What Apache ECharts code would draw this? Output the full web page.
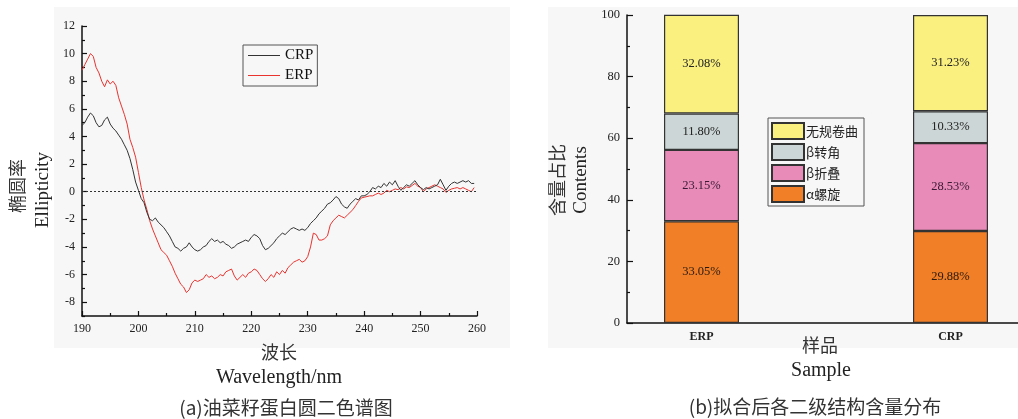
<!DOCTYPE html>
<html><head><meta charset="utf-8">
<script src="https://cdn.jsdelivr.net/npm/echarts@6/dist/echarts.min.js"></script>
<style>html,body{margin:0;padding:0;background:#fff}#c{width:1018px;height:419px}</style>
</head><body><div id="c"></div>
<script>
// ---- Chart (a): CD spectra ----
const wavelength = [190,190.5,191,191.5,192,192.5,193,193.5,194,194.5,195,195.5,196,196.5,197,197.5,198,198.5,199,199.5,
200,200.5,201,201.5,202,202.5,203,203.5,204,204.5,205,205.5,206,206.5,207,207.5,208,208.5,209,209.5,
210,210.5,211,211.5,212,212.5,213,213.5,214,214.5,215,215.5,216,216.5,217,217.5,218,218.5,219,219.5,
220,220.5,221,221.5,222,222.5,223,223.5,224,224.5,225,225.5,226,226.5,227,227.5,228,228.5,229,229.5,
230,230.5,231,231.5,232,232.5,233,233.5,234,234.5,235,235.5,236,236.5,237,237.5,238,238.5,239,239.5,
240,240.5,241,241.5,242,242.5,243,243.5,244,244.5,245,245.5,246,246.5,247,247.5,248,248.5,249,249.5,
250,250.5,251,251.5,252,252.5,253,253.5,254,254.5,255,255.5,256,256.5,257,257.5,258,258.5,259,259.5];
const crp = [4.8,5.0,5.4,5.7,5.5,5.0,4.7,4.8,5.2,5.4,4.9,4.6,4.4,4.1,3.8,3.4,3.0,2.4,1.6,0.7,
0.1,-0.5,-0.8,-1.5,-2.0,-2.1,-1.9,-2.2,-2.4,-2.6,-2.9,-3.2,-3.6,-4.0,-4.1,-4.3,-4.1,-4.0,-3.7,-4.0,
-4.2,-4.3,-4.2,-4.0,-3.9,-3.6,-3.4,-3.6,-3.5,-3.7,-3.6,-3.8,-3.9,-4.1,-4.0,-3.8,-3.7,-3.6,-3.5,-3.6,
-3.3,-3.1,-3.2,-3.4,-3.9,-4.2,-4.1,-3.9,-3.7,-3.4,-3.2,-3.0,-3.1,-2.9,-2.7,-2.6,-2.7,-2.8,-2.7,-2.8,
-2.6,-2.3,-2.1,-1.9,-1.6,-1.4,-1.2,-0.9,-0.8,-0.6,-0.35,-0.5,-0.9,-1.1,-1.2,-0.9,-0.7,-0.5,-0.6,-0.3,
-0.3,-0.2,0.0,0.3,0.2,0.4,0.3,0.6,0.4,0.7,0.5,0.8,0.4,0.1,0.3,0.5,0.4,0.6,0.8,0.5,
0.3,0.15,0.3,0.2,0.3,0.4,0.5,0.9,0.5,0.1,0.4,0.6,0.7,0.6,0.7,0.8,0.7,0.8,0.6,0.6];
const erp = [8.8,9.2,9.6,10.0,9.8,9.0,8.6,8.0,7.6,8.1,7.8,8.0,7.7,6.8,6.2,5.6,4.9,3.8,3.2,2.5,
1.4,0.3,-0.6,-1.3,-2.1,-2.7,-3.2,-3.7,-4.2,-4.4,-4.6,-5.0,-5.4,-5.9,-6.3,-6.7,-6.9,-7.3,-7.1,-6.6,
-6.4,-6.5,-6.4,-6.3,-6.0,-6.2,-6.1,-6.3,-6.2,-6.0,-6.1,-5.8,-5.7,-5.6,-6.1,-6.4,-6.2,-6.0,-6.2,-5.9,
-5.8,-5.6,-5.7,-6.0,-6.3,-6.5,-6.3,-6.0,-6.2,-5.8,-6.0,-5.7,-5.9,-5.5,-5.3,-5.1,-5.0,-4.9,-5.1,-5.0,
-4.7,-4.0,-3.0,-3.1,-3.5,-3.5,-3.4,-3.2,-2.4,-2.1,-1.9,-1.7,-1.8,-1.9,-1.7,-1.5,-1.3,-1.0,-0.7,-0.45,
-0.4,-0.35,-0.3,-0.3,-0.2,-0.1,-0.2,-0.1,0.1,0.0,0.1,0.2,0.15,0.3,0.2,0.35,0.3,0.45,0.6,0.4,
0.3,0.0,0.2,0.3,0.4,0.5,0.4,0.3,0.2,-0.05,0.1,0.2,0.25,0.3,0.2,0.3,0.2,0.1,0.0,0.3];
const yMajorTicks = [-8,-6,-4,-2,0,2,4,6,8,10,12];
const yMinorTicks = [-9,-7,-5,-3,-1,1,3,5,7,9,11];

// ---- Chart (b): secondary structure content ----
const samples = ['ERP','CRP'];
const structNames = ['α螺旋','β折叠','β转角','无规卷曲'];
const alphaHelix = [33.05, 29.88];
const betaSheet = [23.15, 28.53];
const betaTurn = [11.80, 10.33];
const randomCoil = [32.08, 31.23];

const serif = 'Liberation Serif, Times New Roman, serif';
const cjk = 'Noto Sans CJK SC';

const chart = echarts.init(document.getElementById('c'), null, {renderer:'canvas'});

function pairs(xs, ys){ return ys.map((v,i)=>[xs[i], v]); }
const structValues = [alphaHelix, betaSheet, betaTurn, randomCoil];
const structColors = ['#F07F27','#E88BB9','#CDD6D6','#FAF080'];
const labelColors = ['#2a1a10','#3a1a35','#222','#222'];

const barSeries = structNames.map((n,k)=>({
  name:n, type:'bar', stack:'total', xAxisIndex:2, yAxisIndex:3,
  barWidth:75,
  data: structValues[k],
  itemStyle:{color:structColors[k], borderColor:'#333', borderWidth:1.2},
  label:{show:true, position:'inside', formatter:p=>p.value.toFixed(2)+'%',
    fontFamily:serif, fontSize:12.5, color:labelColors[k]}
}));

const lineIcon = 'path://M0 0H32V1H0Z';

const option = {
  animation:false,
  backgroundColor:'#fff',
  graphic:[
    {type:'rect', z:-10, shape:{x:54,y:7,width:456,height:341}, style:{fill:'#f7f7f7'}},
    {type:'rect', z:-10, shape:{x:548,y:7,width:470,height:341}, style:{fill:'#f7f7f7'}},
    {type:'text', x:17, y:186, rotation:Math.PI/2, style:{text:'椭圆率', font:'18px '+cjk, fill:'#333', align:'center', verticalAlign:'middle'}},
    {type:'text', x:43, y:190, rotation:Math.PI/2, style:{text:'Ellipticity', font:'19px '+serif, fill:'#222', align:'center', verticalAlign:'middle'}},
    {type:'text', x:279, y:352, style:{text:'波长', font:'18px '+cjk, fill:'#333', align:'center', verticalAlign:'middle'}},
    {type:'text', x:279, y:378, style:{text:'Wavelength/nm', font:'20px '+serif, fill:'#222', align:'center', verticalAlign:'middle'}},
    {type:'text', x:286, y:408, style:{text:'(a)油菜籽蛋白圆二色谱图', font:'19px '+cjk, fill:'#333', align:'center', verticalAlign:'middle'}},
    {type:'text', x:557, y:180, rotation:Math.PI/2, style:{text:'含量占比', font:'18px '+cjk, fill:'#333', align:'center', verticalAlign:'middle'}},
    {type:'text', x:581, y:180, rotation:Math.PI/2, style:{text:'Contents', font:'19px '+serif, fill:'#222', align:'center', verticalAlign:'middle'}},
    {type:'text', x:820, y:345, style:{text:'样品', font:'18px '+cjk, fill:'#333', align:'center', verticalAlign:'middle'}},
    {type:'text', x:821, y:371, style:{text:'Sample', font:'20px '+serif, fill:'#222', align:'center', verticalAlign:'middle'}},
    {type:'text', x:815, y:407, style:{text:'(b)拟合后各二级结构含量分布', font:'19px '+cjk, fill:'#333', align:'center', verticalAlign:'middle'}}
  ],
  legend:[
    {data:[{name:'CRP', icon:lineIcon},{name:'ERP', icon:lineIcon}], orient:'vertical', left:243, top:45, itemWidth:32, itemHeight:1.3, itemGap:5,
     borderColor:'#555', borderWidth:1, padding:[3,4,3,5],
     textStyle:{fontFamily:serif, fontSize:15, color:'#111', lineHeight:15}},
    {data:['无规卷曲','β转角','β折叠','α螺旋'], icon:'rect', orient:'vertical', left:768, top:118, itemWidth:32, itemHeight:16, itemGap:3,
     borderColor:'#555', borderWidth:1, padding:[4,6,3,3],
     textStyle:{fontFamily:cjk, fontSize:13, color:'#222', padding:[0,0,0,-3]}}
  ],
  grid:[
    {left:82, top:26, width:395, height:290, containLabel:false},
    {left:627, top:15, right:0, height:308, containLabel:false},
    {left:701.5, top:15, width:249, height:308, containLabel:false}
  ],
  xAxis:[
    {type:'value', gridIndex:0, min:190, max:260, interval:10,
     axisLine:{onZero:false, lineStyle:{color:'#111', width:1.5}},
     axisTick:{inside:true, length:5, lineStyle:{color:'#111', width:1.2}},
     minorTick:{show:true, splitNumber:2, length:3, lineStyle:{color:'#111', width:1.2}},
     splitLine:{show:false},
     axisLabel:{fontFamily:serif, fontSize:12, color:'#222', margin:7}},
    {type:'value', gridIndex:1, min:0, max:1,
     axisLine:{onZero:false, lineStyle:{color:'#111', width:1.5}},
     axisTick:{show:false}, splitLine:{show:false}, axisLabel:{show:false}},
    {type:'category', gridIndex:2, data:samples, boundaryGap:false,
     axisLine:{show:false}, axisTick:{show:false}, splitLine:{show:false},
     axisLabel:{fontFamily:serif, fontSize:12, fontWeight:'bold', color:'#222', margin:8}}
  ],
  yAxis:[
    {type:'value', gridIndex:0, min:-9, max:12,
     axisLine:{show:true, lineStyle:{color:'#111', width:1.5}},
     axisTick:{show:true, inside:true, length:5, customValues:yMajorTicks, lineStyle:{color:'#111', width:1.2}},
     splitLine:{show:false},
     axisLabel:{customValues:yMajorTicks, fontFamily:serif, fontSize:12, color:'#222', margin:7}},
    {type:'value', gridIndex:0, min:-9, max:12, position:'left',
     axisLine:{show:false},
     axisTick:{show:true, inside:true, length:3, customValues:yMinorTicks, lineStyle:{color:'#111', width:1.2}},
     splitLine:{show:false},
     axisLabel:{show:false}},
    {type:'value', gridIndex:1, min:0, max:100, interval:20,
     axisLine:{show:true, lineStyle:{color:'#111', width:1.5}},
     axisTick:{show:true, inside:true, length:6, lineStyle:{color:'#111', width:1.2}},
     minorTick:{show:true, splitNumber:2, length:3, lineStyle:{color:'#111', width:1.2}},
     splitLine:{show:false},
     axisLabel:{fontFamily:serif, fontSize:12.5, color:'#222', margin:7}},
    {type:'value', gridIndex:2, min:0, max:100, show:false}
  ],
  series:[
    {name:'CRP', type:'line', xAxisIndex:0, yAxisIndex:0, data:pairs(wavelength, crp),
     symbol:'none', lineStyle:{color:'#333', width:1}, itemStyle:{color:'#333'}, z:3,
     markLine:{silent:true, symbol:'none', label:{show:false},
       lineStyle:{color:'#333', type:[2,2], width:1}, data:[{yAxis:0}]}},
    {name:'ERP', type:'line', xAxisIndex:0, yAxisIndex:0, data:pairs(wavelength, erp),
     symbol:'none', lineStyle:{color:'#E8332F', width:1}, itemStyle:{color:'#E8332F'}, z:2}
  ].concat(barSeries)
};
chart.setOption(option);
</script></body></html>
